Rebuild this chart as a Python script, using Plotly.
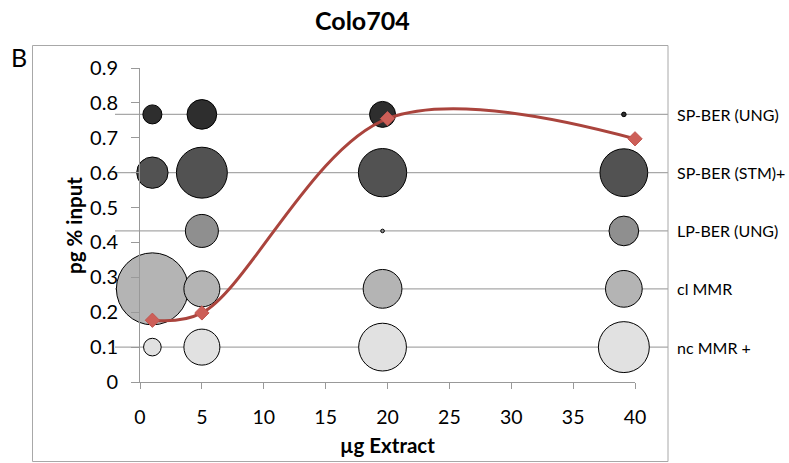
import plotly.graph_objects as go

# ---------------- data ----------------
bubble_x = [1.0, 5.0, 19.6, 39.1]
row_labels = ["SP-BER (UNG)", "SP-BER (STM)+", "LP-BER (UNG)", "cl MMR", "nc MMR +"]
row_levels = [0.767, 0.600, 0.433, 0.267, 0.100]
row_colors = ["#2e2e2e", "#525252", "#8f8f8f", "#b4b4b4", "#e1e1e1"]
# relative bubble sizes (area) per row, one value per extract amount
size_sp_ber_ung = [7, 17, 13, 0.4]
size_sp_ber_stm = [19, 50, 45, 44]
size_lp_ber_ung = [0, 21, 0.25, 17]
size_cl_mmr = [100, 25, 29, 26]
size_nc_mmr = [6, 25, 44, 50]
row_sizes = [size_sp_ber_ung, size_sp_ber_stm, size_lp_ber_ung, size_cl_mmr, size_nc_mmr]

line_x = [1, 5, 20, 40]
line_y = [0.177, 0.198, 0.755, 0.697]

x_ticks = [0, 5, 10, 15, 20, 25, 30, 35, 40]
y_ticks = [0, 0.1, 0.2, 0.3, 0.4, 0.5, 0.6, 0.7, 0.8, 0.9]

# ---------------- layout geometry ----------------
W, H = 789, 463
ML, MR, MT, MB = 140, 154, 68, 81
PW, PH = W - ML - MR, H - MT - MB
FONT = "Lato"


def px(xp):
    return (xp - ML) / PW


def py(yp):
    return (H - MB - yp) / PH


max_size = max(max(s) for s in row_sizes)
sizeref = 2.0 * max_size / (72 ** 2)

fig = go.Figure()

for lbl, lev, col, sizes in zip(row_labels, row_levels, row_colors, row_sizes):
    xs = [x for x, s in zip(bubble_x, sizes) if s > 0]
    ss = [s for s in sizes if s > 0]
    fig.add_trace(go.Scatter(
        x=xs, y=[lev] * len(xs), mode="markers", name=lbl,
        marker=dict(size=ss, sizemode="area", sizeref=sizeref, color=col,
                    line=dict(color="#000000", width=1), opacity=1),
        cliponaxis=False, showlegend=False, hoverinfo="skip"))

fig.add_trace(go.Scatter(
    x=line_x, y=line_y, mode="lines+markers",
    line=dict(color="#aa443d", width=3, shape="spline", smoothing=1.0),
    marker=dict(symbol="diamond", size=11, color="#cd5f58",
                line=dict(color="#c25650", width=1)),
    cliponaxis=False, showlegend=False, hoverinfo="skip"))

shapes = []
# chart border
shapes.append(dict(type="rect", xref="paper", yref="paper",
                   x0=px(32.5), x1=px(668), y0=py(461.5), y1=py(45.5),
                   line=dict(color="#a8a8a8", width=1), layer="below"))
# row lines
for lev in row_levels:
    shapes.append(dict(type="line", xref="paper", yref="y",
                       x0=px(115), x1=px(668), y0=lev, y1=lev,
                       line=dict(color="#a8a8a8", width=1.2), layer="below"))

annotations = []
for lbl, lev in zip(row_labels, row_levels):
    annotations.append(dict(text=lbl, xref="paper", yref="y", x=px(675), y=lev,
                            xanchor="left", yanchor="middle", showarrow=False,
                            font=dict(family=FONT, size=16, color="#000")))
annotations.append(dict(text="<b>Colo704</b>", xref="paper", yref="paper",
                        x=px(362.5), y=py(20), xanchor="center", yanchor="middle",
                        showarrow=False, font=dict(family=FONT, size=25, color="#000")))
annotations.append(dict(text="B", xref="paper", yref="paper",
                        x=px(19.2), y=py(57), xanchor="center", yanchor="middle",
                        showarrow=False, font=dict(family=FONT, size=25, color="#000")))
annotations.append(dict(text="<b>µg Extract</b>", xref="paper", yref="paper",
                        x=px(387.5), y=py(445), xanchor="center", yanchor="middle",
                        showarrow=False, font=dict(family=FONT, size=20.5, color="#000")))
annotations.append(dict(text="<b>pg % input</b>", xref="paper", yref="paper",
                        x=px(74), y=py(226), xanchor="center", yanchor="middle",
                        textangle=-90, showarrow=False,
                        font=dict(family=FONT, size=20.5, color="#000")))

fig.update_layout(
    width=W, height=H, margin=dict(l=ML, r=MR, t=MT, b=MB, autoexpand=False),
    paper_bgcolor="white", plot_bgcolor="white",
    shapes=shapes, annotations=annotations,
    font=dict(family=FONT, color="#000"),
    xaxis=dict(range=[0, 40], tickvals=x_ticks, ticktext=[str(v) for v in x_ticks],
               showgrid=False, zeroline=False, showline=True, linecolor="#999999",
               linewidth=1, ticks="outside", ticklen=6, tickcolor="#999999",
               tickfont=dict(family=FONT, size=19.5), ticklabelstandoff=12),
    yaxis=dict(range=[0, 0.9], tickvals=y_ticks,
               ticktext=["0" if v == 0 else f"{v:.1f}" for v in y_ticks],
               showgrid=False, zeroline=False, showline=True, linecolor="#999999",
               linewidth=1, ticks="outside", ticklen=8, tickcolor="#999999",
               tickfont=dict(family=FONT, size=20), ticklabelstandoff=9),
)

fig.write_html("out.html")
